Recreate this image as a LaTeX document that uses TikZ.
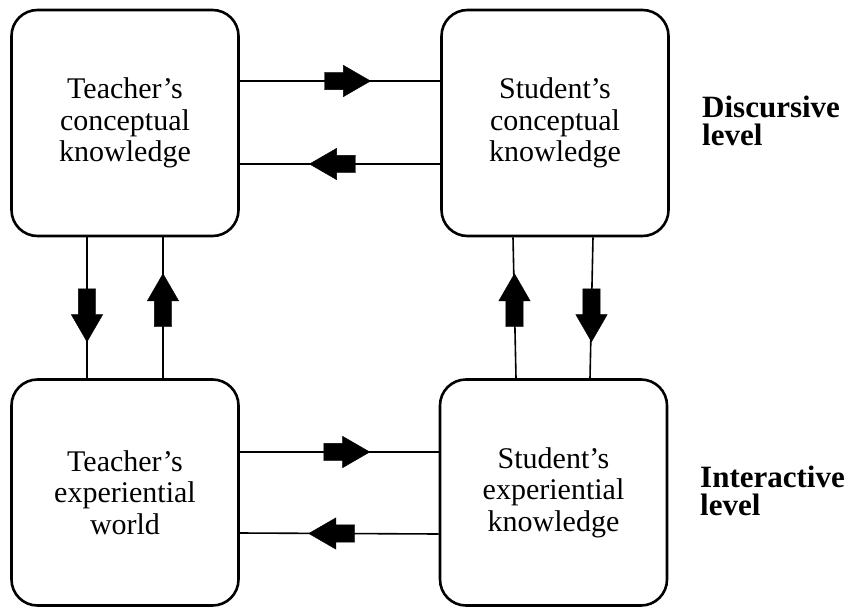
\documentclass[tikz,border=0pt]{standalone}
\usepackage{fontspec}
\setmainfont{Liberation Serif}
\usetikzlibrary{shapes.arrows}
\tikzset{
  box/.style={draw, line width=2.6pt, rounded corners=26pt, minimum width=227pt,
    minimum height=226pt, inner sep=0pt, align=center,
    font=\fontsize{30}{31.5}\selectfont},
  link/.style={line width=1.6pt},
  flow/.style={single arrow, fill=black, draw=black, line width=0.4pt,
    inner xsep=0pt, inner ysep=8.5pt, minimum height=#1, minimum width=31pt,
    single arrow head extend=7pt, single arrow tip angle=60},
  flow/.default=46pt,
  levellabel/.style={anchor=base west, align=left, inner sep=0pt,
    font=\bfseries\fontsize{31}{28}\selectfont}
}
\begin{document}
\begin{tikzpicture}[x=1pt, y=-1pt]
			\useasboundingbox (0,0) rectangle (845,607);
			\node [box] (TC) at (125,123) {Teacher’s\\conceptual\\knowledge};
			\node [box] (SC) at (555,123) {Student’s\\conceptual\\knowledge};
			\node [box] (TE) at (125,492.5) {Teacher’s\\experiential\\world};
			\node [box] (SE) at (553.5,492.5) {Student’s\\experiential\\knowledge};
			
			\node [levellabel] (LD) at (702,145) {Discursive\\level};
			\node [levellabel] (LI) at (700,515) {Interactive\\level};
			
			\draw [link] ([yshift=42pt]TC.east) -- ([yshift=42pt]SC.west) node [midway,flow] {};
			\draw [link] ([yshift=-41pt]TC.east) -- ([yshift=-41pt]SC.west) node [midway,flow,rotate=180] {};
			\draw [link] ([yshift=40.5pt]TE.east) -- ([yshift=40.5pt]SE.west) node [midway,flow] {};
			\draw [link] ([yshift=-40.5pt]TE.east) -- ([yshift=-41.5pt]SE.west) node [midway,flow,rotate=180] {};
			\draw [link] ([xshift=-38pt]TC.south) -- ([xshift=-38pt]TE.north) node [midway,flow=53pt,rotate=-90] {};
			\draw [link] ([xshift=38pt]TC.south) -- ([xshift=38pt]TE.north) node [midway,flow=53pt,rotate=90] {};
			\draw [link] ([xshift=-42pt]SC.south) -- ([xshift=-37.5pt]SE.north) node [midway,flow=53pt,rotate=90] {};
			\draw [link] ([xshift=38pt]SC.south) -- ([xshift=36.5pt]SE.north) node [midway,flow=53pt,rotate=-90] {};
		\end{tikzpicture}
\end{document}
